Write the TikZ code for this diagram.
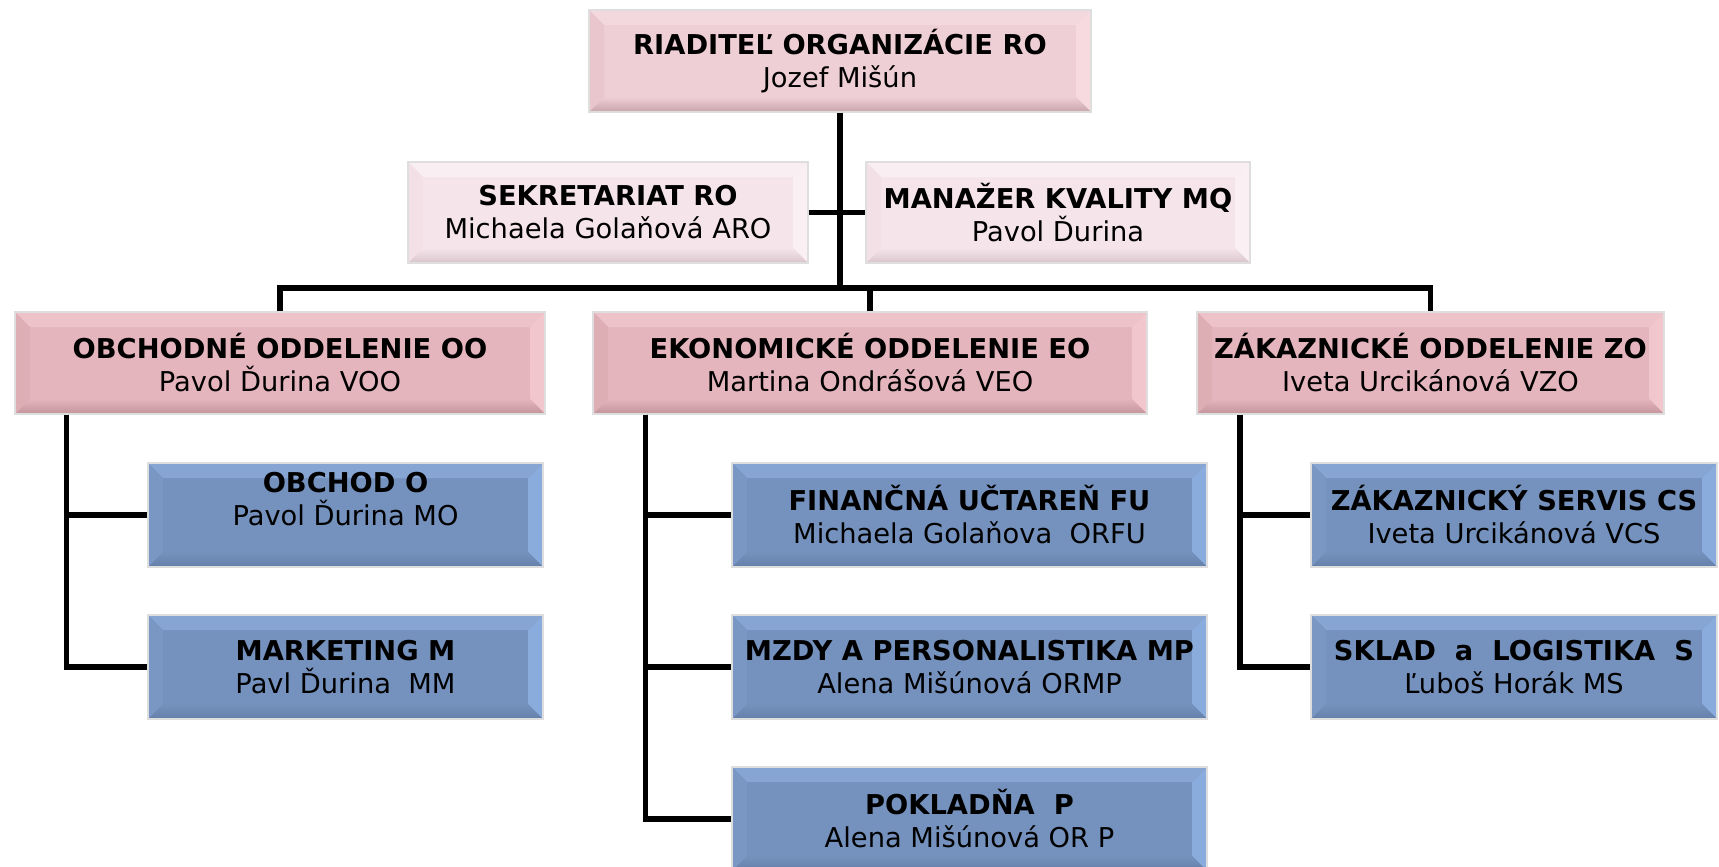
\documentclass[tikz,border=0pt]{standalone}
\usepackage{fontspec}
\setmainfont{DejaVu Sans}
\definecolor{roface}{HTML}{EECFD6}
\definecolor{rotop}{HTML}{F3D9DE}
\definecolor{roleft}{HTML}{E9C6CD}
\definecolor{roright}{HTML}{F6DADF}
\definecolor{robot}{HTML}{C9A3AB}
\definecolor{ddface}{HTML}{E4B5BC}
\definecolor{ddtop}{HTML}{EDC3C9}
\definecolor{ddleft}{HTML}{DEAEB5}
\definecolor{ddright}{HTML}{F1C6CC}
\definecolor{ddbot}{HTML}{C3939B}
\definecolor{stface}{HTML}{F5E5EB}
\definecolor{sttop}{HTML}{F9EEF2}
\definecolor{stleft}{HTML}{F2E0E6}
\definecolor{stright}{HTML}{FAEFF3}
\definecolor{stbot}{HTML}{D8C5CB}
\definecolor{unface}{HTML}{7592BE}
\definecolor{untop}{HTML}{86A5D2}
\definecolor{unleft}{HTML}{7A97C3}
\definecolor{unright}{HTML}{8AACDD}
\definecolor{unbot}{HTML}{6480A9}
\tikzset{
  bevel/.style n args={5}{fill=#1,
    path picture={
      \path (path picture bounding box.north west) coordinate (bnw)
            (path picture bounding box.north east) coordinate (bne)
            (path picture bounding box.south west) coordinate (bsw)
            (path picture bounding box.south east) coordinate (bse);
      \path ([xshift=15pt,yshift=-15pt]bnw) coordinate (inw)
            ([xshift=-15pt,yshift=-15pt]bne) coordinate (ine)
            ([xshift=15pt,yshift=15pt]bsw) coordinate (isw)
            ([xshift=-15pt,yshift=15pt]bse) coordinate (ise);
      \fill[#2] (bnw) -- (bne) -- (ine) -- (inw) -- cycle;
      \fill[#3] (bnw) -- (inw) -- (isw) -- (bsw) -- cycle;
      \fill[#4] (bne) -- (ine) -- (ise) -- (bse) -- cycle;
      \shade[top color=#1, bottom color=#5] (bsw) -- (isw) -- (ise) -- (bse) -- cycle;
    }},
}
\begin{document}
\begin{tikzpicture}[x=1pt,y=-1pt,line join=miter,
    box/.style={draw=black!13, line width=1.2pt, inner sep=0pt, align=center,
      font=\fontsize{27.3}{33}\selectfont},
    topbox/.style={box, bevel={roface}{rotop}{roleft}{roright}{robot}, minimum height=102pt},
    deptbox/.style={box, bevel={ddface}{ddtop}{ddleft}{ddright}{ddbot}, minimum height=102pt},
    staffbox/.style={box, bevel={stface}{sttop}{stleft}{stright}{stbot}, minimum height=101pt},
    unitbox/.style={box, bevel={unface}{untop}{unleft}{unright}{unbot}, minimum height=104pt},
    link/.style={line width=5.4pt}]
  \useasboundingbox (0,0) rectangle (1719,867);
  % vedenie
  \node[topbox, minimum width=502pt] (ro) at (840,61) {{\bfseries RIADITEĽ ORGANIZÁCIE RO}\\Jozef Mišún};
  \node[staffbox, minimum width=400pt] (sek) at (608,212.5) {{\bfseries SEKRETARIAT RO}\\Michaela Golaňová ARO};
  \node[staffbox, minimum width=384pt] (mq) at (1058,212.5) {{\bfseries MANAŽER KVALITY MQ}\\Pavol Ďurina};
  % oddelenia
  \node[deptbox, minimum width=530pt] (oo) at (280,363) {{\bfseries OBCHODNÉ ODDELENIE OO}\\Pavol Ďurina VOO};
  \node[deptbox, minimum width=554pt] (eo) at (870,363) {{\bfseries EKONOMICKÉ ODDELENIE EO}\\Martina Ondrášová VEO};
  \node[deptbox, minimum width=467pt] (zo) at (1430.5,363) {{\bfseries ZÁKAZNICKÉ ODDELENIE ZO}\\Iveta Urcikánová VZO};
  % useky
  \node[unitbox, minimum width=395pt] (obchod) at (345.5,515) {{\bfseries OBCHOD O}\\Pavol Ďurina MO\\\mbox{}};
  \node[unitbox, minimum width=395pt] (mark) at (345.5,667) {{\bfseries MARKETING M}\\Pavl Ďurina~ MM};
  \node[unitbox, minimum width=475pt] (fin) at (969.5,515) {{\bfseries FINANČNÁ UČTAREŇ FU}\\Michaela Golaňova~ ORFU};
  \node[unitbox, minimum width=475pt] (mzdy) at (969.5,667) {{\bfseries MZDY A PERSONALISTIKA MP}\\Alena Mišúnová ORMP};
  \node[unitbox, minimum width=475pt] (pokl) at (969.5,819) {{\bfseries POKLADŇA~ P}\\Alena Mišúnová OR P};
  \node[unitbox, minimum width=406pt] (serv) at (1514,515) {{\bfseries ZÁKAZNICKÝ SERVIS CS}\\Iveta Urcikánová VCS};
  \node[unitbox, minimum width=406pt] (sklad) at (1514,667) {{\bfseries SKLAD~ a~ LOGISTIKA~ S}\\Ľuboš Horák MS};
  % spojnice
  \coordinate (bus) at (840,288);
  \draw[link] (ro.south) -- (bus);
  \draw[link] (sek.east) -- (mq.west);
  \draw[link] (oo.north) |- (bus) -| (zo.north);
  \draw[link] (eo.north) -- (eo.north |- bus);
  \draw[link] ([xshift=52pt]oo.south west) |- (obchod.west);
  \draw[link] ([xshift=52pt]oo.south west) |- (mark.west);
  \draw[link] ([xshift=53pt]eo.south west) |- (fin.west);
  \draw[link] ([xshift=53pt]eo.south west) |- (mzdy.west);
  \draw[link] ([xshift=53pt]eo.south west) |- (pokl.west);
  \draw[link] ([xshift=43.5pt]zo.south west) |- (serv.west);
  \draw[link] ([xshift=43.5pt]zo.south west) |- (sklad.west);
\end{tikzpicture}
\end{document}
